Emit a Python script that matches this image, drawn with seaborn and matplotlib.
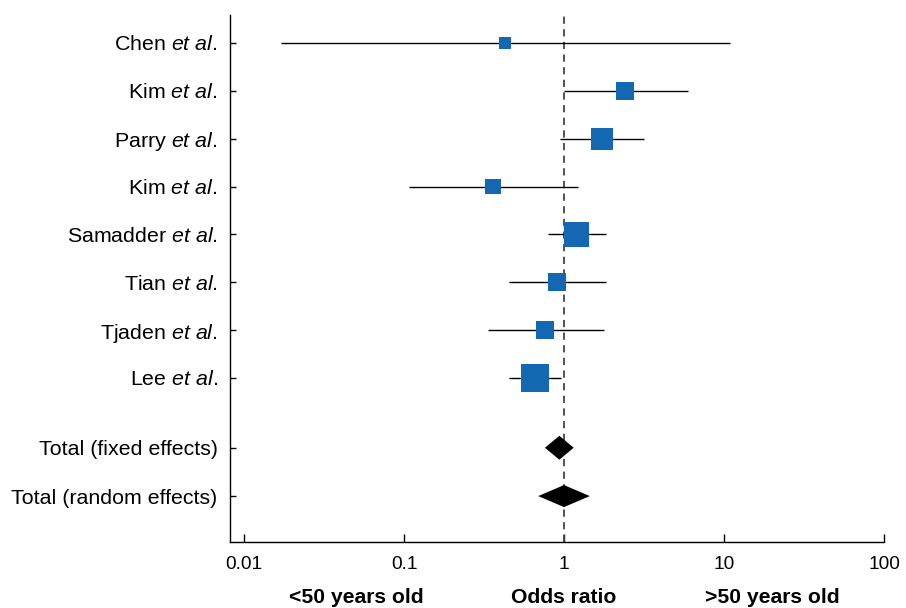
import numpy as np
import pandas as pd
import matplotlib
matplotlib.use("Agg")
import matplotlib.pyplot as plt
import matplotlib.transforms as mtransforms
import seaborn as sns

# ---- data ----
studies = ["Chen", "Kim", "Parry", "Kim", "Samadder", "Tian", "Tjaden", "Lee"]
odds_ratio = [0.43, 2.41, 1.73, 0.36, 1.20, 0.90, 0.76, 0.66]
ci_low = [0.017, 1.00, 0.94, 0.108, 0.79, 0.45, 0.335, 0.45]
ci_high = [10.9, 5.93, 3.16, 1.22, 1.82, 1.82, 1.79, 0.96]
weight_pct = [4.5, 10.0, 15.0, 7.0, 19.3, 10.0, 10.0, 24.2]

pooled_labels = ["Total (fixed effects)", "Total (random effects)"]
pooled_or = [0.935, 1.00]
pooled_low = [0.76, 0.69]
pooled_high = [1.15, 1.45]

x_ticks = [0.01, 0.1, 1, 10, 100]
x_tick_labels = ["0.01", "0.1", "1", "10", "100"]

# ---- style ----
sns.set_style("ticks")
plt.rcParams["font.family"] = ["Liberation Sans", "DejaVu Sans"]
plt.rcParams["text.color"] = "black"
plt.rcParams["mathtext.fontset"] = "custom"
plt.rcParams["mathtext.rm"] = "Liberation Sans"
plt.rcParams["mathtext.it"] = "Liberation Sans:italic"

fig = plt.figure(figsize=(9.06, 6.08), dpi=100)
W, H = 906, 608
left, right, top, bottom = 230, 884, 15, 542
ax = fig.add_axes([left / W, 1 - bottom / H, (right - left) / W, (bottom - top) / H])

study_pos = np.arange(len(studies), dtype=float)
pooled_pos = np.array([8.46, 9.47])

blue = "#1467B1"

# confidence interval lines
ax.hlines(study_pos, ci_low, ci_high, color="black", lw=1.0, zorder=2)

# squares sized by weight
df = pd.DataFrame({"or": odds_ratio, "pos": study_pos, "w": weight_pct})
sns.scatterplot(data=df, x="or", y="pos", marker="s", s=df["w"].to_numpy() * 16.8,
                color=blue, linewidth=0, ax=ax, zorder=3, legend=False)

# pooled diamonds
half_h = [0.25, 0.23]
for p, o, lo, hi, hh in zip(pooled_pos, pooled_or, pooled_low, pooled_high, half_h):
    ax.fill([lo, o, hi, o], [p, p - hh, p, p + hh], color="black", lw=0, zorder=3)

# line of no effect
ax.axvline(1, color="#444444", lw=1.3, ls=(0, (4, 3)), zorder=1)

ax.set_xscale("log")
ax.set_xlim(10 ** (2 - 654 / 160), 100)
ax.set_ylim(10.43, -0.585)

ax.set_xticks(x_ticks)
ax.set_xticklabels(x_tick_labels)
ax.xaxis.set_minor_locator(matplotlib.ticker.NullLocator())

ylabels = [f"{s} $\\it{{et\\ al}}$." for s in studies] + pooled_labels
ax.set_yticks(list(study_pos) + list(pooled_pos))
ax.set_yticklabels(ylabels)

ax.tick_params(axis="y", direction="in", length=4.5, width=1.0, pad=9,
               labelsize=15.4, colors="black")
ax.tick_params(axis="x", direction="in", length=5.5, width=1.0, pad=10,
               labelsize=13.7, colors="black")

for s in ["top", "right"]:
    ax.spines[s].set_visible(False)
for s in ["left", "bottom"]:
    ax.spines[s].set_color("black")
    ax.spines[s].set_linewidth(1.0)

ax.set_xlabel("")
ax.set_ylabel("")

trans = mtransforms.blended_transform_factory(ax.transData, ax.transAxes)
for xv, txt in [(0.05, "<50 years old"), (1, "Odds ratio"), (20, ">50 years old")]:
    ax.text(xv, -0.106, txt, transform=trans, ha="center", va="center",
            fontsize=15.2, fontweight="bold", color="black")

fig.savefig("out.png", dpi=100)
